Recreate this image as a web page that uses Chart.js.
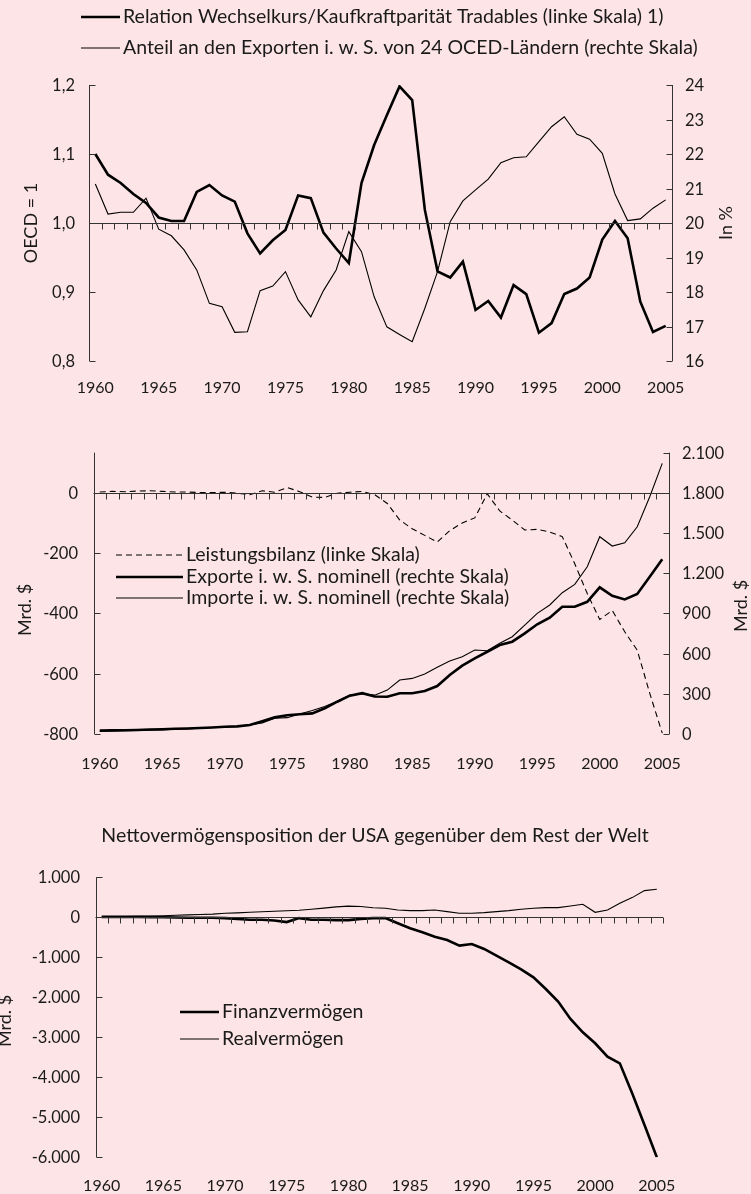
<!DOCTYPE html>
<html>
<head>
<meta charset="utf-8">
<script src="https://cdn.jsdelivr.net/npm/chart.js@4.4.1/dist/chart.umd.min.js"></script>
<style>
  body { margin: 0; background: #fde4e6; width: 751px; height: 1194px; overflow: hidden; position: relative; }
  canvas { position: absolute; left: 0; }
</style>
</head>
<body>
<canvas id="chart-kurs" width="751" height="400" style="top:0px"></canvas>
<canvas id="chart-handel" width="751" height="385" style="top:400px"></canvas>
<canvas id="chart-vermoegen" width="751" height="409" style="top:785px"></canvas>
<script>
// Jahre (Kategorien)
const years = ['1960','1961','1962','1963','1964','1965','1966','1967','1968','1969',
  '1970','1971','1972','1973','1974','1975','1976','1977','1978','1979',
  '1980','1981','1982','1983','1984','1985','1986','1987','1988','1989',
  '1990','1991','1992','1993','1994','1995','1996','1997','1998','1999',
  '2000','2001','2002','2003','2004','2005'];

// Oberes Diagramm
const wechselkursRelation = [1.100, 1.070, 1.058, 1.042, 1.029, 1.008, 1.003, 1.003, 1.045, 1.055,
  1.040, 1.031, 0.985, 0.956, 0.975, 0.990, 1.040, 1.036, 0.986, 0.963,
  0.942, 1.058, 1.113, 1.156, 1.198, 1.178, 1.019, 0.930, 0.921, 0.944,
  0.874, 0.887, 0.863, 0.910, 0.897, 0.841, 0.855, 0.897, 0.905, 0.921,
  0.976, 1.003, 0.978, 0.886, 0.842, 0.851];
const exportAnteil = [21.13, 20.26, 20.31, 20.31, 20.72, 19.82, 19.63, 19.22, 18.64, 17.67,
  17.57, 16.83, 16.85, 18.04, 18.17, 18.59, 17.77, 17.28, 18.04, 18.64,
  19.75, 19.17, 17.86, 16.99, 16.77, 16.56, 17.53, 18.59, 20.04, 20.64,
  20.96, 21.27, 21.75, 21.89, 21.92, 22.36, 22.79, 23.08, 22.57, 22.43,
  22.02, 20.84, 20.07, 20.12, 20.43, 20.67];

// Mittleres Diagramm (Mrd. $)
const leistungsbilanz = [3, 5, 4, 6, 7, 5, 3, 3, 1, 1,
  2, -1, -6, 7, 2, 18, 4, -14, -15, -1,
  2, 5, -6, -35, -90, -119, -141, -163, -125, -100,
  -83, -3, -60, -90, -123, -121, -130, -145, -235, -334,
  -420, -390, -461, -522, -665, -797];
const exporteNominal = [25, 27, 28, 30, 34, 36, 39, 41, 45, 49,
  54, 57, 67, 95, 124, 140, 148, 154, 192, 241,
  286, 305, 280, 278, 304, 304, 321, 358, 440, 510,
  565, 614, 664, 689, 751, 819, 868, 950, 950, 987,
  1095, 1032, 1005, 1045, 1174, 1304];
const importeNominal = [22, 23, 25, 26, 28, 31, 36, 38, 44, 48,
  53, 58, 68, 83, 118, 122, 150, 175, 205, 245,
  290, 300, 290, 328, 403, 415, 448, 498, 545, 577,
  627, 622, 677, 726, 813, 901, 963, 1055, 1117, 1249,
  1473, 1403, 1428, 1547, 1771, 2020];

// Unteres Diagramm (Mrd. $)
const finanzvermoegen = [10, 15, 10, 10, 5, 0, -5, -10, -10, -10,
  -20, -40, -60, -60, -80, -120, -20, -60, -60, -70,
  -70, -40, -20, -20, -150, -275, -375, -485, -567, -708,
  -667, -792, -958, -1125, -1300, -1500, -1792, -2108, -2542, -2875,
  -3150, -3483, -3650, -4400, -5193, -6000];
const realvermoegen = [0, 10, 20, 25, 30, 40, 50, 60, 70, 80,
  100, 110, 125, 140, 150, 165, 175, 200, 230, 260,
  280, 270, 240, 225, 183, 167, 167, 183, 142, 100,
  100, 117, 142, 167, 200, 225, 242, 242, 283, 325,
  125, 183, 350, 492, 667, 700];

// Achsenbeschriftungen
const ticksKurs = [0.8, 0.9, 1.0, 1.1, 1.2];
const ticksAnteil = [16, 17, 18, 19, 20, 21, 22, 23, 24];
const ticksSaldo = [-800, -600, -400, -200, 0];
const ticksHandel = [0, 300, 600, 900, 1200, 1500, 1800, 2100];
const ticksVermoegen = [-6000, -5000, -4000, -3000, -2000, -1000, 0, 1000];

const FONT = 'Lato, "Open Sans", sans-serif';
const INK = '#1a1a1a';
const AXIS = '#333';

// deutsches Zahlenformat
function de(v, dec) {
  const s = v.toFixed(dec).split('.');
  s[0] = s[0].replace(/\B(?=(\d{3})+(?!\d))/g, '.');
  return s.join(',');
}

function hline(ctx, x1, y, x2) { ctx.beginPath(); ctx.moveTo(x1, y); ctx.lineTo(x2, y); ctx.stroke(); }
function vline(ctx, x, y1, y2) { ctx.beginPath(); ctx.moveTo(x, y1); ctx.lineTo(x, y2); ctx.stroke(); }

// zeichnet Achsen im Excel-Stil, Legende und Titel
function makeDecor(o) {
  return {
    id: 'decor',
    afterDraw(chart) {
      const { ctx, chartArea: a, scales } = chart;
      const x = scales.x;
      ctx.save();
      ctx.strokeStyle = AXIS;
      ctx.lineWidth = 1;
      ctx.fillStyle = INK;
      ctx.textBaseline = 'middle';

      // y-Achsen
      o.axes.forEach(ax => {
        const s = scales[ax.id];
        const left = ax.side === 'left';
        const ex = Math.round(left ? a.left : a.right) + 0.5;
        vline(ctx, ex, a.top, a.bottom);
        ctx.font = '16.5px ' + FONT;
        ctx.textAlign = left ? 'right' : 'left';
        ax.ticks.forEach(v => {
          const py = Math.round(s.getPixelForValue(v)) + 0.5;
          hline(ctx, ex, py, ex + (left ? 6 : -6));
          ctx.fillText(de(v, ax.dec), ax.labelX, py);
        });
        ctx.save();
        ctx.font = '18px ' + FONT;
        ctx.translate(ax.titleX, ax.titleY);
        ctx.rotate(-Math.PI / 2);
        ctx.textAlign = 'center';
        ctx.fillText(ax.title, 0, 0);
        ctx.restore();
      });

      // Nulllinie mit Teilstrichen
      const bs = scales[o.base.id];
      const by = Math.round(bs.getPixelForValue(o.base.value)) + 0.5;
      hline(ctx, a.left, by, a.right);
      const half = (x.getPixelForValue(1) - x.getPixelForValue(0)) / 2;
      for (let i = 0; i <= years.length; i++) {
        const bx = Math.round(x.getPixelForValue(Math.min(i, years.length - 1)) + (i === years.length ? half : -half)) + 0.5;
        vline(ctx, bx, by, by + 6);
      }

      // Jahreszahlen
      ctx.font = '16px ' + FONT;
      ctx.textAlign = 'center';
      years.forEach((lab, i) => {
        if (Number(lab) % 5 === 0) ctx.fillText(lab, x.getPixelForValue(i), o.xLabelY);
      });

      // Legende
      ctx.font = o.legendFont + 'px ' + FONT;
      ctx.textAlign = 'left';
      o.legend.forEach(it => {
        ctx.save();
        ctx.strokeStyle = '#000';
        ctx.lineWidth = it.width;
        ctx.setLineDash(it.dash || []);
        hline(ctx, it.x1, it.y, it.x2);
        ctx.restore();
        ctx.fillText(it.label, it.x2 + 3, it.y);
      });

      if (o.title) {
        ctx.font = o.title.size + 'px ' + FONT;
        ctx.textAlign = 'center';
        ctx.fillText(o.title.text, o.title.x, o.title.y);
      }
      ctx.restore();
    }
  };
}

function baseOptions(pad, yScales) {
  const scales = { x: { type: 'category', offset: true, display: false } };
  Object.assign(scales, yScales);
  return {
    responsive: false,
    animation: false,
    devicePixelRatio: 1,
    layout: { padding: pad },
    elements: { point: { radius: 0 }, line: { tension: 0, borderCapStyle: 'butt', borderJoinStyle: 'miter' } },
    plugins: { legend: { display: false }, tooltip: { enabled: false } },
    scales: scales
  };
}

const heavy = 2.6, thin = 1.1;

new Chart(document.getElementById('chart-kurs'), {
  type: 'line',
  data: {
    labels: years,
    datasets: [
      { label: 'Relation Wechselkurs/Kaufkraftparität Tradables (linke Skala) 1)', data: wechselkursRelation, yAxisID: 'y', borderColor: '#000', borderWidth: heavy },
      { label: 'Anteil an den Exporten i. w. S. von 24 OCED-Ländern (rechte Skala)', data: exportAnteil, yAxisID: 'y2', borderColor: '#000', borderWidth: thin }
    ]
  },
  options: baseOptions({ left: 89, right: 79, top: 85, bottom: 39 }, {
    y: { display: false, min: 0.8, max: 1.2 },
    y2: { display: false, min: 16, max: 24 }
  }),
  plugins: [makeDecor({
    axes: [
      { id: 'y', side: 'left', ticks: ticksKurs, dec: 1, labelX: 75, title: 'OECD = 1', titleX: 31, titleY: 223 },
      { id: 'y2', side: 'right', ticks: ticksAnteil, dec: 0, labelX: 685, title: 'In %', titleX: 726, titleY: 223 }
    ],
    base: { id: 'y', value: 1.0 },
    xLabelY: 388,
    legendFont: 19.5,
    legend: [
      { label: 'Relation Wechselkurs/Kaufkraftparität Tradables (linke Skala) 1)', width: heavy, x1: 81, x2: 120, y: 17 },
      { label: 'Anteil an den Exporten i. w. S. von 24 OCED-Ländern (rechte Skala)', width: thin, x1: 81, x2: 120, y: 48 }
    ]
  })]
});

new Chart(document.getElementById('chart-handel'), {
  type: 'line',
  data: {
    labels: years,
    datasets: [
      { label: 'Leistungsbilanz (linke Skala)', data: leistungsbilanz, yAxisID: 'y', borderColor: '#000', borderWidth: thin, borderDash: [6, 4] },
      { label: 'Exporte i. w. S. nominell (rechte Skala)', data: exporteNominal, yAxisID: 'y2', borderColor: '#000', borderWidth: heavy },
      { label: 'Importe i. w. S. nominell (rechte Skala)', data: importeNominal, yAxisID: 'y2', borderColor: '#000', borderWidth: thin }
    ]
  },
  options: baseOptions({ left: 93.5, right: 82.5, top: 52.7, bottom: 51 }, {
    y: { display: false, min: -800, max: 133.33 },
    y2: { display: false, min: 0, max: 2100 }
  }),
  plugins: [makeDecor({
    axes: [
      { id: 'y', side: 'left', ticks: ticksSaldo, dec: 0, labelX: 78, title: 'Mrd. $', titleX: 25, titleY: 210 },
      { id: 'y2', side: 'right', ticks: ticksHandel, dec: 0, labelX: 682, title: 'Mrd. $', titleX: 741, titleY: 206 }
    ],
    base: { id: 'y', value: 0 },
    xLabelY: 364,
    legendFont: 19.5,
    legend: [
      { label: 'Leistungsbilanz (linke Skala)', width: thin, dash: [6, 4], x1: 116, x2: 183, y: 155 },
      { label: 'Exporte i. w. S. nominell (rechte Skala)', width: heavy, x1: 116, x2: 183, y: 177 },
      { label: 'Importe i. w. S. nominell (rechte Skala)', width: thin, x1: 116, x2: 183, y: 198 }
    ]
  })]
});

new Chart(document.getElementById('chart-vermoegen'), {
  type: 'line',
  data: {
    labels: years,
    datasets: [
      { label: 'Finanzvermögen', data: finanzvermoegen, yAxisID: 'y', borderColor: '#000', borderWidth: heavy },
      { label: 'Realvermögen', data: realvermoegen, yAxisID: 'y', borderColor: '#000', borderWidth: thin }
    ]
  },
  options: baseOptions({ left: 95.5, right: 88, top: 92.3, bottom: 36.7 }, {
    y: { display: false, min: -6000, max: 1000 }
  }),
  plugins: [makeDecor({
    axes: [
      { id: 'y', side: 'left', ticks: ticksVermoegen, dec: 0, labelX: 80, title: 'Mrd. $', titleX: 5, titleY: 236 }
    ],
    base: { id: 'y', value: 0 },
    xLabelY: 401,
    legendFont: 19.5,
    legend: [
      { label: 'Finanzvermögen', width: heavy, x1: 180, x2: 219, y: 227 },
      { label: 'Realvermögen', width: thin, x1: 180, x2: 219, y: 254 }
    ],
    title: { text: 'Nettovermögensposition der USA gegenüber dem Rest der Welt', size: 19.5, x: 375, y: 51 }
  })]
});
</script>
</body>
</html>
